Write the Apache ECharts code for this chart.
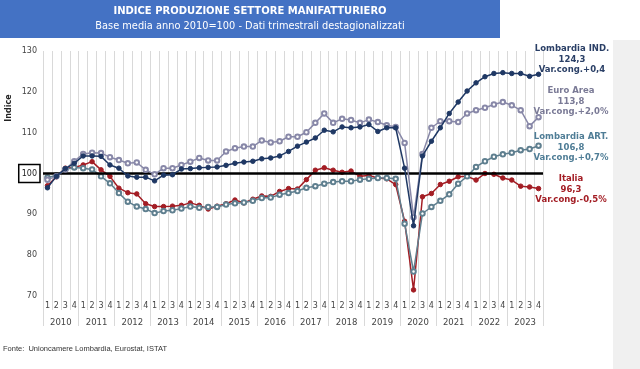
<!DOCTYPE html>
<html>
<head>
<meta charset="utf-8">
<script src="https://cdn.jsdelivr.net/npm/echarts@6/dist/echarts.min.js"></script>
<style>
html,body{margin:0;padding:0;background:#fff;}
#c{width:640px;height:369px;}
</style>
</head>
<body>
<div id="c"></div>
<script>
var years = ['2010','2011','2012','2013','2014','2015','2016','2017','2018','2019','2020','2021','2022','2023'];
var quarterNames = ['1','2','3','4'];
var yTicks = [70, 80, 90, 100, 110, 120, 130];

var lombardiaInd = [96.5,99.3,101.2,102.5, 104.3,104.3,104.2,102.1, 101.3,99.4,99.1,99.1, 98.2,99.6,99.7,101.1,
  101.2,101.4,101.5,101.6, 102.0,102.5,102.8,103.0, 103.6,103.8,104.3,105.4, 106.7,107.7,108.7,110.6,
  110.2,111.4,111.2,111.4, 112.0,110.3,111.2,111.2, 101.3,87.2,104.3,107.9, 111.2,114.7,117.5,120.2,
  122.2,123.7,124.5,124.7, 124.5,124.5,123.8,124.3];
var euroArea = [98.5,99.3,101.0,103.0, 104.8,105.1,105.0,104.0, 103.3,102.5,102.7,100.9, 99.8,101.3,101.3,102.1,
  102.9,103.8,103.2,103.2, 105.4,106.2,106.6,106.6, 108.1,107.6,107.9,109.0, 109.0,110.1,112.4,114.7,
  112.4,113.4,113.1,112.4, 113.2,112.6,111.8,111.4, 107.5,89.3,104.8,111.2, 112.8,112.8,112.6,114.7,
  115.5,116.1,116.9,117.5, 116.7,115.5,111.6,113.8];
var lombardiaArt = [99.0,99.5,101.0,101.5, 101.3,101.0,99.3,97.6, 95.2,93.1,91.9,91.3, 90.3,90.8,91.0,91.4,
  91.9,91.6,91.8,91.8, 92.4,92.7,92.9,93.3, 94.0,94.1,94.8,95.2, 95.7,96.5,96.9,97.5,
  97.9,98.1,98.1,98.5, 98.7,98.9,98.9,98.7, 87.7,76.0,90.2,91.8, 93.3,94.9,97.5,99.3,
  101.6,103.0,104.1,104.7, 105.1,105.7,106.0,106.8];
var italia = [97.0,99.2,101.3,101.5, 102.1,102.9,100.9,99.3, 96.4,95.3,95.0,92.6, 91.9,91.9,92.0,92.2,
  92.8,92.2,91.3,92.0, 92.6,93.5,92.8,93.7, 94.5,94.4,95.6,96.3, 96.2,98.5,100.8,101.4,
  100.8,100.3,100.6,99.3, 99.5,98.9,98.7,97.3, 88.3,71.5,94.3,95.1, 97.3,98.1,99.2,99.3,
  98.4,100.0,99.8,98.9, 98.4,96.9,96.7,96.3];

var seriesNames = ['Lombardia IND.', 'Euro Area', 'Lombardia ART.', 'Italia'];
var lastValues = ['124,3', '113,8', '106,8', '96,3'];
var varCong = ['Var.cong.+0,4', 'Var.cong.+2,0%', 'Var.cong.+0,7%', 'Var.cong.-0,5%'];

var colInd = '#1f3864', colEuro = '#8888a8', colArt = '#5f7f8f', colIta = '#a31d24';
var labInd = '#2a3f66', labEuro = '#7a7a96', labArt = '#4f7d96', labIta = '#a31d24';

var quarters = [];
years.forEach(function (y) { quarterNames.forEach(function (q) { quarters.push(q); }); });

var chart = echarts.init(document.getElementById('c'), null, {renderer: 'canvas'});
var FF = 'DejaVu Sans';
var grid = '#d9d9d9';

function mkSeries(name, data, color, hollow, z) {
  return {
    name: name, type: 'line', data: data, xAxisIndex: 0, yAxisIndex: 0,
    symbol: hollow ? 'emptyCircle' : 'circle', symbolSize: 4.5, showAllSymbol: true,
    lineStyle: {color: color, width: 1.5},
    itemStyle: {color: color, borderColor: color, borderWidth: 1},
    z: z, animation: false
  };
}

var series = [
  mkSeries(seriesNames[3], italia, colIta, false, 3),
  mkSeries(seriesNames[2], lombardiaArt, colArt, true, 4),
  mkSeries(seriesNames[1], euroArea, colEuro, true, 5),
  mkSeries(seriesNames[0], lombardiaInd, colInd, false, 6)
];
series[0].markLine = {
  silent: true, symbol: ['none', 'none'], animation: false,
  label: {show: false},
  lineStyle: {color: '#000', width: 2.5, type: 'solid'},
  data: [{yAxis: 100}]
};

function textEl(x, y, text, font, color, extra) {
  var st = {text: text, fill: color, font: font, textAlign: 'center', textVerticalAlign: 'top'};
  if (extra) { for (var k in extra) st[k] = extra[k]; }
  return {type: 'text', x: x, y: y, z: 10, style: st};
}
function labelBlock(x, y, lines, color) {
  return textEl(x, y, lines.join('\n'), 'bold 8.5px "DejaVu Sans"', color, {lineHeight: 10.5});
}

chart.setOption({
  backgroundColor: '#fff',
  animation: false,
  grid: {left: 43, right: 97, top: 51, bottom: 73, containLabel: false},
  xAxis: [
    {
      type: 'category', data: quarters, boundaryGap: true, position: 'bottom',
      axisLine: {show: false},
      axisTick: {show: true, interval: 0, length: 14, lineStyle: {color: grid}},
      axisLabel: {interval: 0, fontSize: 8, color: '#444', margin: 6, fontFamily: FF},
      splitLine: {show: true, interval: 0, lineStyle: {color: grid, width: 1}}
    },
    {
      type: 'category', data: years, boundaryGap: true, position: 'bottom', offset: 14,
      axisLine: {show: false},
      axisTick: {show: true, interval: 0, length: 16, lineStyle: {color: grid}},
      axisLabel: {interval: 0, fontSize: 8.5, color: '#444', margin: 8, fontFamily: FF},
      splitLine: {show: false}
    }
  ],
  yAxis: {
    type: 'value', min: yTicks[0], max: yTicks[yTicks.length - 1], interval: 10,
    axisLine: {show: false}, axisTick: {show: false}, splitLine: {show: false},
    axisLabel: {
      margin: 3, fontSize: 8, color: '#444', fontFamily: FF,
      formatter: function (v) { return v === 100 ? '{b|' + v + '}' : '{n|' + v + '}'; },
      rich: {
        b: {fontSize: 8, color: '#222', fontFamily: FF, borderColor: '#000', borderWidth: 1.5, padding: [5, 3, 5, 3]},
        n: {fontSize: 8, color: '#444', fontFamily: FF, padding: [5, 3, 5, 3]}
      }
    }
  },
  graphic: [
    {type: 'rect', left: 0, top: 0, z: 0, shape: {width: 500, height: 38}, style: {fill: '#4472c4'}},
    {type: 'rect', left: 613, top: 40, z: 0, shape: {width: 27, height: 329}, style: {fill: '#f0f0f0'}},
    textEl(250, 6, 'INDICE PRODUZIONE SETTORE MANIFATTURIERO', 'bold 10px "DejaVu Sans"', '#fff'),
    textEl(250, 21, 'Base media anno 2010=100 - Dati trimestrali destagionalizzati', '9.8px "DejaVu Sans"', '#fff'),
    {type: 'text', x: 9, y: 108, rotation: Math.PI / 2, z: 1, style: {text: 'Indice', fill: '#222', font: 'bold 8px "DejaVu Sans"', textAlign: 'center', textVerticalAlign: 'middle'}},
    {type: 'text', x: 3, y: 345, z: 1, style: {text: 'Fonte:  Unioncamere Lombardia, Eurostat, ISTAT', fill: '#333', font: '7.5px "Liberation Sans"'}},
    labelBlock(572, 44, [seriesNames[0], lastValues[0], varCong[0]], labInd),
    labelBlock(571, 86, [seriesNames[1], lastValues[1], varCong[1]], labEuro),
    labelBlock(571, 132, [seriesNames[2], lastValues[2], varCong[2]], labArt),
    labelBlock(571, 174, [seriesNames[3], lastValues[3], varCong[3]], labIta)
  ],
  series: series
});
</script>
</body>
</html>
